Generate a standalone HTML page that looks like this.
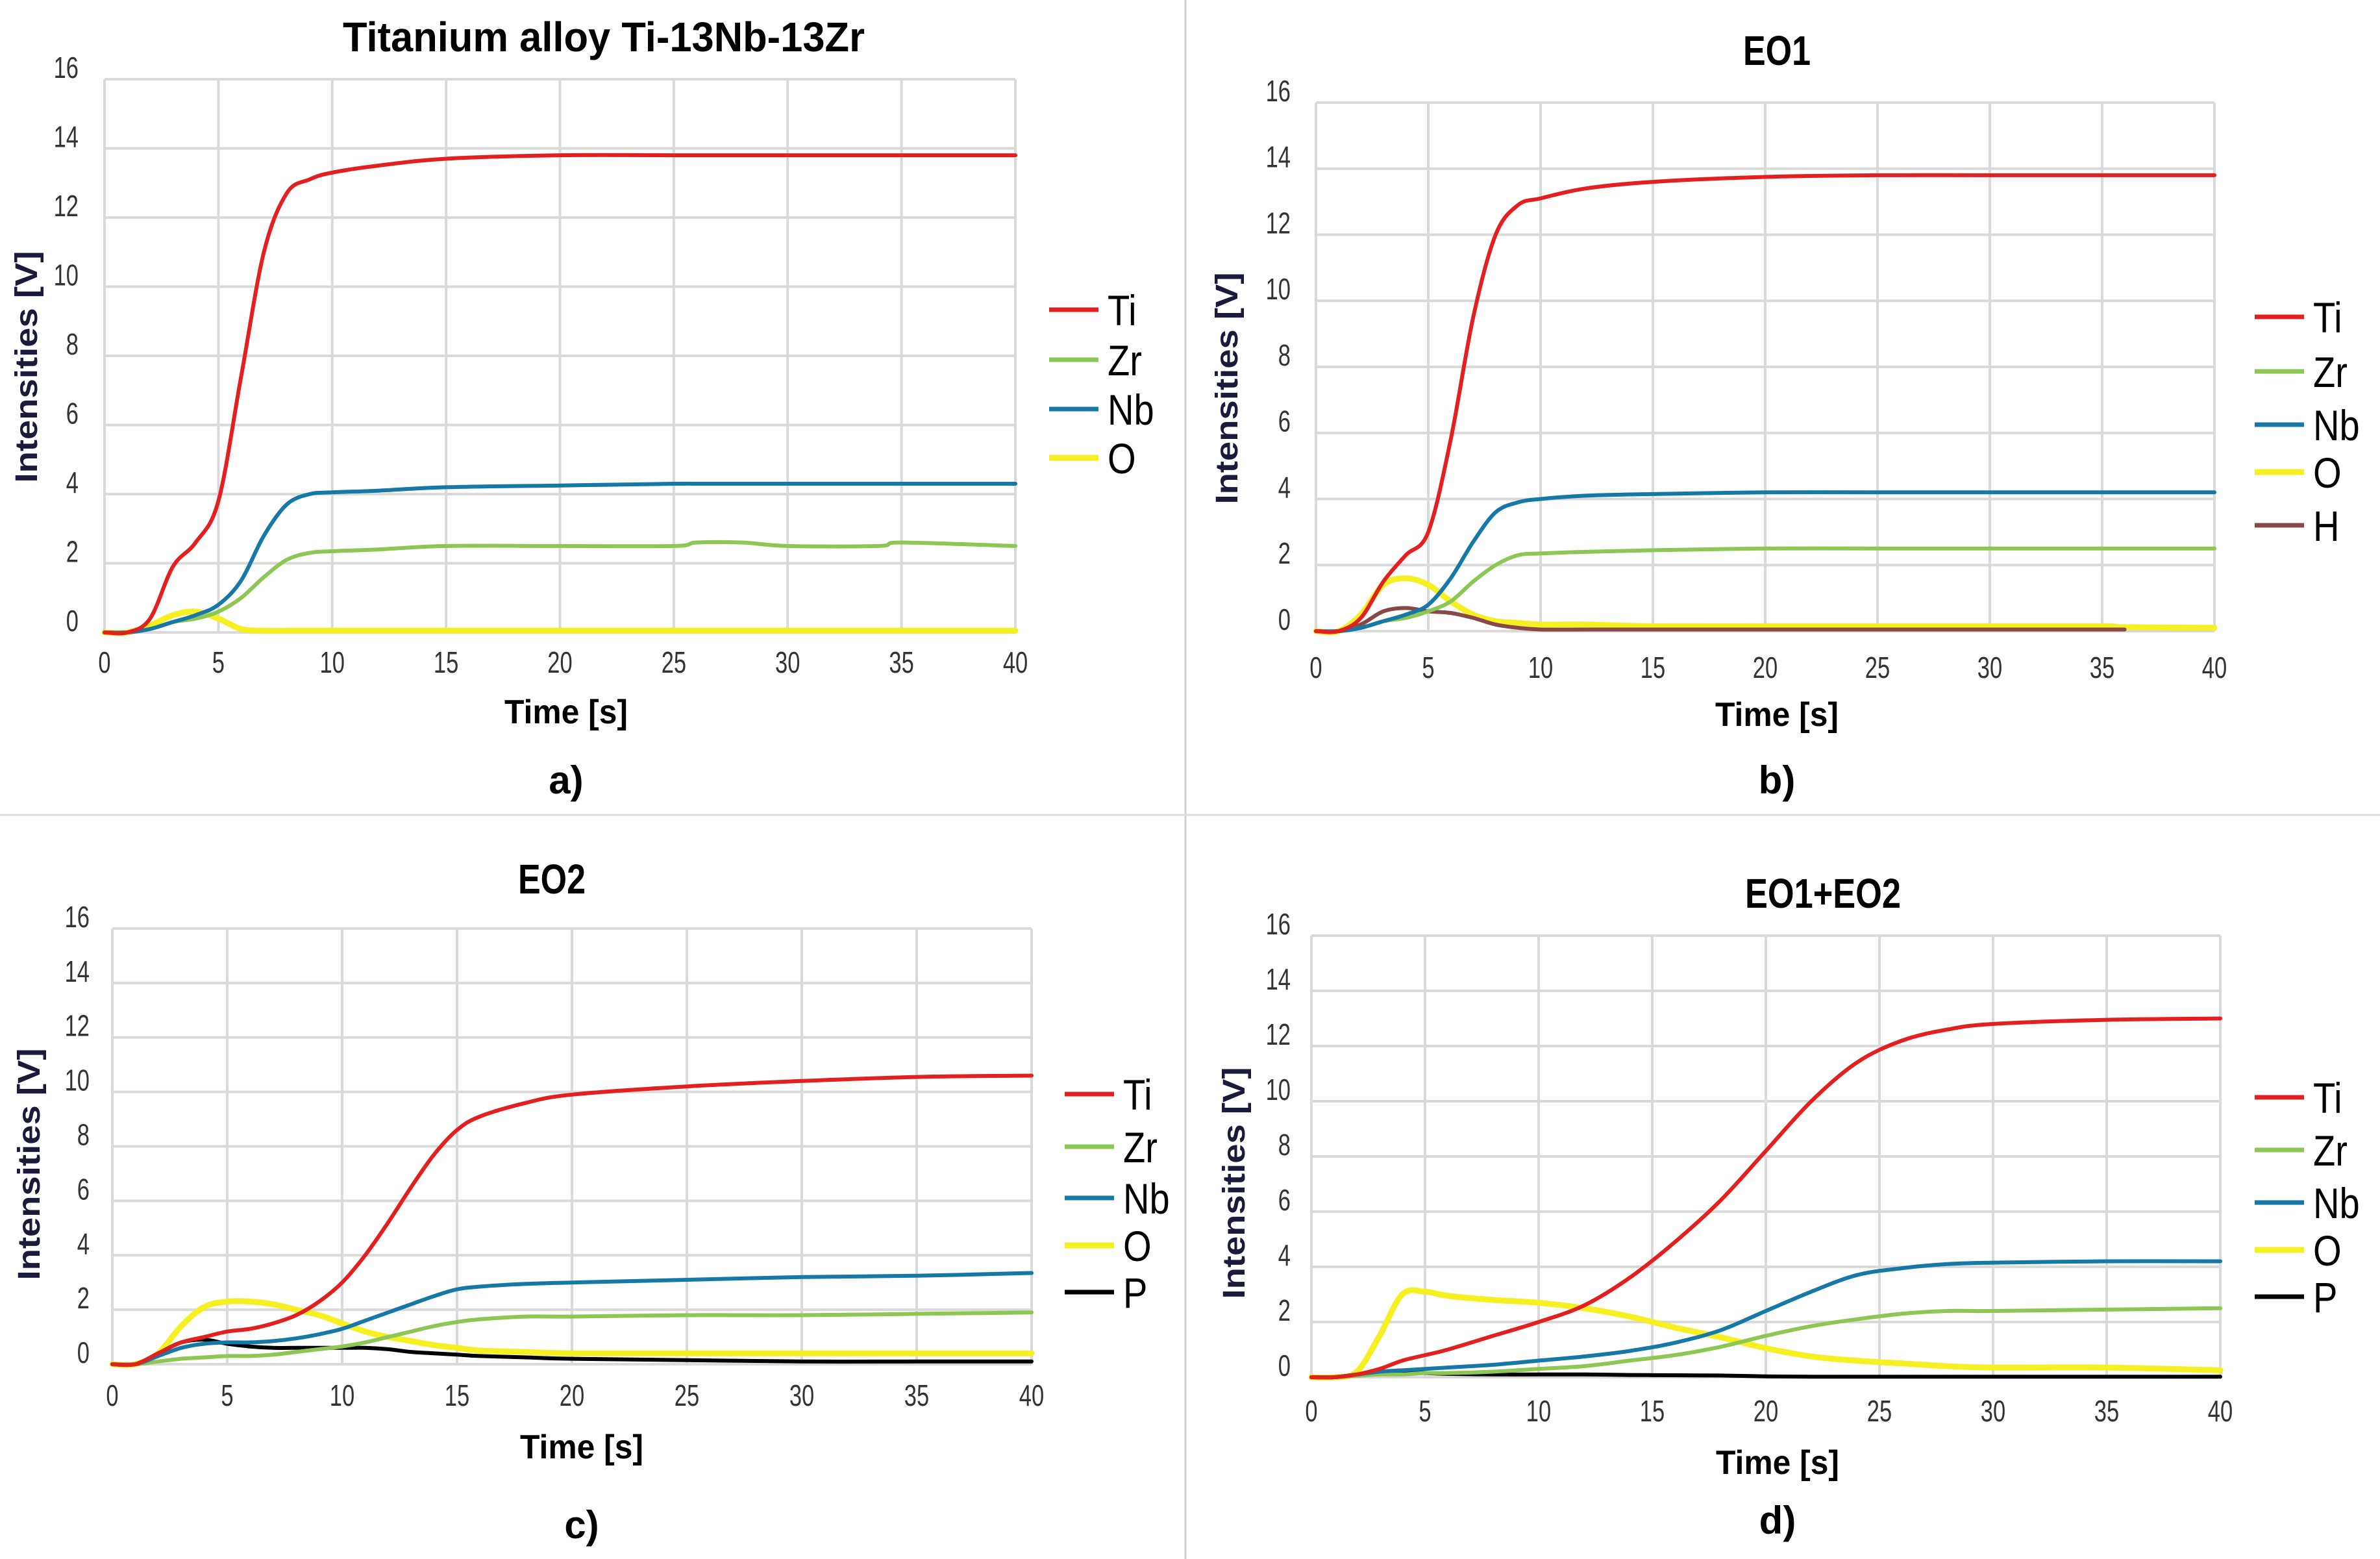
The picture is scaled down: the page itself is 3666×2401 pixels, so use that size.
<!DOCTYPE html>
<html><head><meta charset="utf-8"><style>
html,body{margin:0;padding:0;background:#fff;}
svg{display:block;}
text{font-family:"Liberation Sans",Arial,sans-serif;}
</style></head><body>
<svg id="fig" width="3666" height="2401" viewBox="0 0 3666 2401" xmlns="http://www.w3.org/2000/svg">
<rect width="3666" height="2401" fill="#fff"/>
<line x1="1826" y1="0" x2="1826" y2="2401" stroke="#cfcfcf" stroke-width="3"/>
<line x1="0" y1="1255" x2="3666" y2="1255" stroke="#dcdcdc" stroke-width="3"/>
</svg>
<script>
// ---- chart data ----
const tA = [0,1,2,3,4,5,6,7,8,9,10,12,15,20,25,26,28,30,34,35,40];
const tiA = [0,0,0.4,1.9,2.6,3.8,7.4,11,12.7,13.1,13.3,13.5,13.7,13.8,13.8,13.8,13.8,13.8,13.8,13.8,13.8];
const zrA = [0,0,0.1,0.3,0.4,0.6,1.0,1.6,2.1,2.3,2.35,2.4,2.5,2.5,2.5,2.6,2.6,2.5,2.5,2.6,2.5];
const nbA = [0,0,0.1,0.3,0.5,0.8,1.5,2.8,3.7,4.0,4.05,4.1,4.2,4.25,4.3,4.3,4.3,4.3,4.3,4.3,4.3];
const oA  = [0,0,0.2,0.5,0.6,0.4,0.1,0.05,0.05,0.05,0.05,0.05,0.05,0.05,0.05,0.05,0.05,0.05,0.05,0.05,0.05];

const tB = [0,1,2,3,4,5,6,7,8,9,10,12,15,20,25,30,35,36,40];
const tiB = [0,0,0.4,1.5,2.3,3.0,5.8,9.5,12.0,12.9,13.1,13.4,13.6,13.75,13.8,13.8,13.8,13.8,13.8];
const zrB = [0,0,0.1,0.3,0.4,0.6,0.9,1.5,2.0,2.3,2.35,2.4,2.45,2.5,2.5,2.5,2.5,2.5,2.5];
const nbB = [0,0,0.1,0.3,0.5,0.8,1.6,2.7,3.6,3.9,4.0,4.1,4.15,4.2,4.2,4.2,4.2,4.2,4.2];
const oB  = [0,0,0.5,1.4,1.6,1.4,0.9,0.5,0.3,0.25,0.2,0.2,0.15,0.15,0.15,0.15,0.15,0.12,0.1];
const hB  = [0,0,0.2,0.6,0.7,0.6,0.55,0.4,0.2,0.1,0.05,0.05,0.05,0.05,0.05,0.05,0.05,0.05,null];

const tC = [0,1,2,3,4,5,6,7,8,9,10,11,12,13,14,15,16,18,20,25,30,35,40];
const tiC = [0,0,0.4,0.8,1.0,1.2,1.3,1.5,1.8,2.3,3.0,4.0,5.2,6.5,7.7,8.6,9.1,9.6,9.9,10.2,10.4,10.55,10.6];
const zrC = [0,0,0.1,0.2,0.25,0.3,0.3,0.35,0.45,0.55,0.65,0.8,1.0,1.2,1.4,1.55,1.65,1.75,1.75,1.8,1.8,1.85,1.9];
const nbC = [0,0,0.3,0.6,0.75,0.8,0.8,0.85,0.95,1.1,1.3,1.6,1.9,2.2,2.5,2.75,2.85,2.95,3.0,3.1,3.2,3.25,3.35];
const oC  = [0,0,0.4,1.4,2.1,2.3,2.3,2.2,2.0,1.8,1.5,1.2,1.0,0.85,0.7,0.6,0.5,0.45,0.4,0.4,0.4,0.4,0.4];
const pC  = [0,0,0.4,0.8,0.9,0.75,0.65,0.6,0.6,0.6,0.6,0.6,0.55,0.45,0.4,0.35,0.3,0.25,0.2,0.15,0.1,0.1,0.1];

const tD = [0,1,2,3,4,5,6,8,10,12,14,16,18,20,22,24,26,28,30,35,40];
const tiD = [0,0,0.1,0.3,0.6,0.8,1.0,1.5,2.0,2.6,3.6,4.9,6.4,8.2,10.0,11.4,12.2,12.6,12.8,12.95,13.0];
const zrD = [0,0,0.05,0.1,0.1,0.15,0.15,0.2,0.3,0.4,0.6,0.8,1.1,1.5,1.85,2.1,2.3,2.4,2.4,2.45,2.5];
const nbD = [0,0,0.1,0.2,0.25,0.3,0.35,0.45,0.6,0.75,0.95,1.25,1.7,2.4,3.1,3.7,3.95,4.1,4.15,4.2,4.2];
const oD  = [0,0,0.2,1.5,3.0,3.1,2.95,2.8,2.7,2.5,2.2,1.8,1.45,1.05,0.75,0.6,0.5,0.4,0.35,0.35,0.25];
const pD  = [0,0,0.1,0.2,0.2,0.15,0.12,0.1,0.1,0.1,0.08,0.07,0.06,0.03,0.02,0.02,0.02,0.02,0.02,0.02,0.02];

const xTicks = [0,5,10,15,20,25,30,35,40];
const yTicks = [0,2,4,6,8,10,12,14,16];

const COL = {Ti:'#e3201f', Zr:'#8cc653', Nb:'#1578a6', O:'#f6ef21', H:'#874848', P:'#000000'};

const panels = [
 {id:'a', title:'Titanium alloy Ti-13Nb-13Zr', titleLen:804, t:tA, series:[['Ti',tiA],['Zr',zrA],['Nb',nbA],['O',oA]],
  x0:161,x1:1564,y0:974,y1:122, tx:930,ty:56, legX:1616, legY:[477,554,630,705], tickR:121, xtY:1020, xtitleX:872,xtitleY:1096, sub:'a)', subY:1200, ytX:40, ytY:565},
 {id:'b', title:'EO1', titleLen:104, t:tB, series:[['Ti',tiB],['Zr',zrB],['Nb',nbB],['O',oB],['H',hB]],
  x0:2027,x1:3411,y0:972,y1:158, tx:2737,ty:77, legX:3473, legY:[488,572,654,727,809], tickR:1988, xtY:1028, xtitleX:2737,xtitleY:1100, sub:'b)', subY:1200, ytX:1889, ytY:598},
 {id:'c', title:'EO2', titleLen:104, t:tC, series:[['Ti',tiC],['Zr',zrC],['Nb',nbC],['O',oC],['P',pC]],
  x0:173,x1:1589,y0:2101,y1:1430, tx:850,ty:1353, legX:1640, legY:[1685,1766,1845,1918,1990], tickR:138, xtY:2149, xtitleX:896,xtitleY:2228, sub:'c)', subY:2347, ytX:44, ytY:1793},
 {id:'d', title:'EO1+EO2', titleLen:240, t:tD, series:[['Ti',tiD],['Zr',zrD],['Nb',nbD],['O',oD],['P',pD]],
  x0:2020,x1:3420,y0:2121,y1:1441, tx:2808,ty:1375, legX:3473, legY:[1690,1771,1852,1925,1997], tickR:1988, xtY:2173, xtitleX:2738,xtitleY:2252, sub:'d)', subY:2340, ytX:1900, ytY:1822}
];

const NS='http://www.w3.org/2000/svg';
const svg=document.getElementById('fig');
function mk(tag, attrs, parent){const e=document.createElementNS(NS,tag);for(const k in attrs)e.setAttribute(k,attrs[k]);(parent||svg).appendChild(e);return e;}
function smoothPath(pts){
  let d='M'+pts[0][0].toFixed(1)+' '+pts[0][1].toFixed(1);
  for(let i=0;i<pts.length-1;i++){
    const p0=pts[Math.max(0,i-1)],p1=pts[i],p2=pts[i+1],p3=pts[Math.min(pts.length-1,i+2)];
    const c1=[p1[0]+(p2[0]-p0[0])/6,p1[1]+(p2[1]-p0[1])/6];
    const c2=[p2[0]-(p3[0]-p1[0])/6,p2[1]-(p3[1]-p1[1])/6];
    d+=' C'+c1[0].toFixed(1)+' '+c1[1].toFixed(1)+' '+c2[0].toFixed(1)+' '+c2[1].toFixed(1)+' '+p2[0].toFixed(1)+' '+p2[1].toFixed(1);
  }
  return d;
}

panels.forEach(P=>{
  const g=mk('g',{});
  
  
  const xs=v=>P.x0+(v-0)/(40-0)*(P.x1-P.x0);
  const ys=v=>P.y0-(v-0)/(16-0)*(P.y0-P.y1);
  yTicks.forEach(v=>{
    const l=mk('line',{x1:P.x0,x2:P.x1,y1:ys(v),y2:ys(v),stroke:'#d9d9d9','stroke-width':4},g);
    
    
    const t=mk('text',{x:P.tickR,y:ys(v)-2,'text-anchor':'end','font-size':46,fill:'#333',transform:'translate('+P.tickR+' 0) scale(0.75 1) translate('+(-P.tickR)+' 0)'},g);
    t.textContent=v;
    
    
  });
  xTicks.forEach(v=>{
    const l=mk('line',{x1:xs(v),x2:xs(v),y1:P.y0,y2:P.y1,stroke:'#d9d9d9','stroke-width':4},g);
    
    
    const t=mk('text',{x:xs(v),y:P.xtY+16,'text-anchor':'middle','font-size':46,fill:'#333',transform:'translate('+xs(v)+' 0) scale(0.75 1) translate('+(-xs(v))+' 0)'},g);
    t.textContent=v;
    
    
  });
  const order=['O','H','P','Zr','Nb','Ti'];
  const sorted=P.series.slice().sort((a,b)=>order.indexOf(a[0])-order.indexOf(b[0]));
  sorted.forEach(([name,vals])=>{
    const pts=[];
    P.t.forEach((tv,i)=>{ if(vals[i]!==null && vals[i]!==undefined) pts.push([xs(tv),ys(vals[i])]); });
    const p=mk('path',{d:smoothPath(pts),fill:'none',stroke:COL[name],'stroke-width':name==='O'?9:6,'stroke-linejoin':'round','stroke-linecap':'round'},g);
    
    
  });
  P.series.forEach(([name],i)=>{
    const y=P.legY[i];
    const l=mk('line',{x1:P.legX,x2:P.legX+76,y1:y,y2:y,stroke:COL[name],'stroke-width':name==='O'?9:7},g);
    
    
    const tx=P.legX+90;
    const t=mk('text',{x:tx,y:y+24,'font-size':66,fill:'#000',transform:'translate('+tx+' 0) scale(0.85 1) translate('+(-tx)+' 0)'},g);
    t.textContent=name;
    
    
  });
  const tt=mk('text',{x:P.tx,y:P.ty+23,'text-anchor':'middle','font-size':64,'font-weight':'bold',fill:'#000',textLength:P.titleLen,lengthAdjust:'spacingAndGlyphs'},g);
  tt.textContent=P.title;
  
  
  const xt=mk('text',{x:P.xtitleX,y:P.xtitleY+18,'text-anchor':'middle','font-size':52,'font-weight':'bold',fill:'#000',textLength:190,lengthAdjust:'spacingAndGlyphs'},g);
  xt.textContent='Time [s]';
  
  
  const yt=mk('text',{x:0,y:0,'text-anchor':'middle','font-size':48,'font-weight':'bold',fill:'#1a1a3a',textLength:357,lengthAdjust:'spacingAndGlyphs',transform:'translate('+(P.ytX+17)+' '+P.ytY+') rotate(-90)'},g);
  yt.textContent='Intensities [V]';
  
  
  const st=mk('text',{x:P.xtitleX,y:P.subY+22,'text-anchor':'middle','font-size':60,'font-weight':'bold',fill:'#000'},g);
  st.textContent=P.sub;
  
  
});
</script>
</body></html>
